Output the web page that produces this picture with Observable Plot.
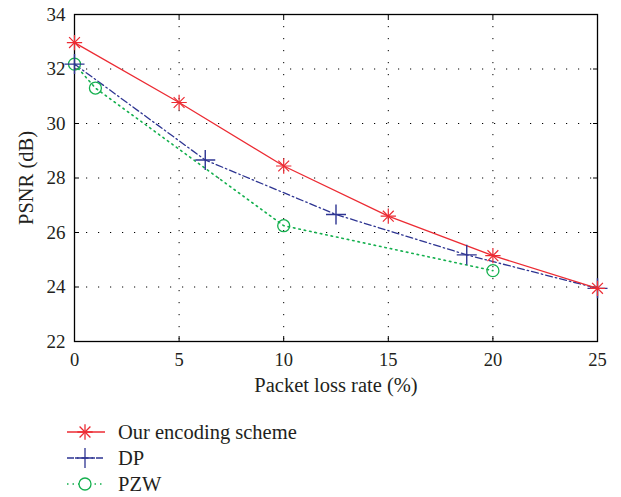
<!DOCTYPE html>
<html>
<head>
<meta charset="utf-8">
<script src="https://cdn.jsdelivr.net/npm/d3@7"></script>
<script src="https://cdn.jsdelivr.net/npm/@observablehq/plot@0.6"></script>
<style>
  html, body { margin: 0; padding: 0; background: #fff; }
  #chart { width: 621px; }
  svg { display: block; }
  #chart svg, #chart svg text { font-family: "Liberation Serif", "Times New Roman", serif !important; }
  #chart g[aria-label="x-axis label"] text, #chart g[aria-label="y-axis label"] text { font-size: 20.5px; }
</style>
</head>
<body>
<div id="chart"></div>
<script>
// ---- data ----
const seriesNames = ["Our encoding scheme", "DP", "PZW"];
const ourX = [0, 5, 10, 15, 20, 25];
const ourY = [32.97, 30.77, 28.44, 26.6, 25.15, 23.95];
const dpX = [0, 6.25, 12.5, 18.75, 25];
const dpY = [32.18, 28.66, 26.66, 25.18, 23.95];
const pzwX = [0, 1, 10, 20];
const pzwY = [32.18, 31.3, 26.25, 24.6];
const xTicks = [0, 5, 10, 15, 20, 25];
const yTicks = [22, 24, 26, 28, 30, 32, 34];
const xLabel = "Packet loss rate (%)";
const yLabel = "PSNR (dB)";

const colors = {"Our encoding scheme": "#ec2b33", "DP": "#2e3592", "PZW": "#14b04e"};
const dashes = {"Our encoding scheme": null, "DP": "7,3,1.5,3", "PZW": "1.5,4"};

const our = ourX.map((x, i) => ({x, y: ourY[i]}));
const dp = dpX.map((x, i) => ({x, y: dpY[i]}));
const pzw = pzwX.map((x, i) => ({x, y: pzwY[i]}));

const font = "Liberation Serif, Times New Roman, serif";
const textColor = "#231f20";

const plot = Plot.plot({
  width: 621,
  height: 400,
  marginLeft: 74,
  marginRight: 24,
  marginTop: 14,
  marginBottom: 59,
  style: {fontFamily: font, fontSize: "18.5px", color: textColor, background: "#fff"},
  x: {domain: [0, 25]},
  y: {domain: [22, 34]},
  marks: [
    Plot.gridX(xTicks, {stroke: "#000", strokeOpacity: 1, strokeDasharray: "1.2,10.8", strokeWidth: 1}),
    Plot.gridY(yTicks, {stroke: "#000", strokeOpacity: 1, strokeDasharray: "1.2,10.8", strokeWidth: 1}),
    Plot.axisX({ticks: xTicks, tickSize: 0, tickPadding: 11, label: xLabel, labelAnchor: "center", labelArrow: "none", labelOffset: 50, fontSize: 18.5}),
    Plot.axisY({ticks: yTicks, tickSize: 0, tickPadding: 9, label: yLabel, labelAnchor: "center", labelArrow: "none", labelOffset: 56, fontSize: 19}),
    Plot.axisX({ticks: xTicks, anchor: "bottom", tickSize: 5, dy: -5, text: null, label: null, stroke: "#000"}),
    Plot.axisX({ticks: xTicks, anchor: "top", tickSize: 5, dy: 5, text: null, label: null, stroke: "#000"}),
    Plot.axisY({ticks: yTicks, anchor: "left", tickSize: 5, dx: 5, text: null, label: null, stroke: "#000"}),
    Plot.axisY({ticks: yTicks, anchor: "right", tickSize: 5, dx: -5, text: null, label: null, stroke: "#000"}),
    Plot.frame({stroke: "#000", strokeWidth: 1.3}),
    Plot.line(pzw, {x: "x", y: "y", stroke: colors.PZW, strokeWidth: 1.6, strokeDasharray: dashes.PZW}),
    Plot.line(dp, {x: "x", y: "y", stroke: colors.DP, strokeWidth: 1.3, strokeDasharray: dashes.DP}),
    Plot.line(our, {x: "x", y: "y", stroke: colors["Our encoding scheme"], strokeWidth: 1.3}),
    Plot.dot(pzw, {x: "x", y: "y", symbol: "circle", r: 6, stroke: colors.PZW, fill: "none", strokeWidth: 1.3}),
    Plot.dot(dp, {x: "x", y: "y", symbol: "plus", r: 6.5, stroke: colors.DP, strokeWidth: 1.4}),
    Plot.dot(our, {x: "x", y: "y", symbol: "plus", r: 5, stroke: colors["Our encoding scheme"], strokeWidth: 1.2}),
    Plot.dot(our, {x: "x", y: "y", symbol: "times", r: 5, stroke: colors["Our encoding scheme"], strokeWidth: 1.2})
  ]
});
document.getElementById("chart").appendChild(plot);

// ---- legend ----
const leg = d3.select("#chart").append("svg")
  .attr("width", 621).attr("height", 97)
  .style("font-family", font).style("font-size", "20.5px");
const symbolsFor = {
  "Our encoding scheme": [d3.symbolPlus, d3.symbolTimes],
  "DP": [d3.symbolPlus],
  "PZW": [d3.symbolCircle]
};
const symSize = {"Our encoding scheme": 25 * Math.PI, "DP": 42 * Math.PI, "PZW": 36 * Math.PI};
seriesNames.forEach((name, i) => {
  const y = 32 + i * 26;
  const g = leg.append("g").attr("transform", `translate(0,${y})`);
  g.append("line").attr("x1", 67).attr("x2", 105).attr("y1", 0).attr("y2", 0)
    .attr("stroke", colors[name]).attr("stroke-width", name === "PZW" ? 1.6 : 1.3)
    .attr("stroke-dasharray", dashes[name]);
  symbolsFor[name].forEach(s => {
    g.append("path").attr("transform", "translate(85,0)")
      .attr("d", d3.symbol(s, symSize[name])())
      .attr("fill", name === "PZW" ? "#fff" : "none")
      .attr("stroke", colors[name]).attr("stroke-width", 1.3);
  });
  g.append("text").attr("x", 118).attr("y", 0).attr("dy", "0.35em")
    .attr("fill", textColor).text(name);
});
</script>
</body>
</html>
